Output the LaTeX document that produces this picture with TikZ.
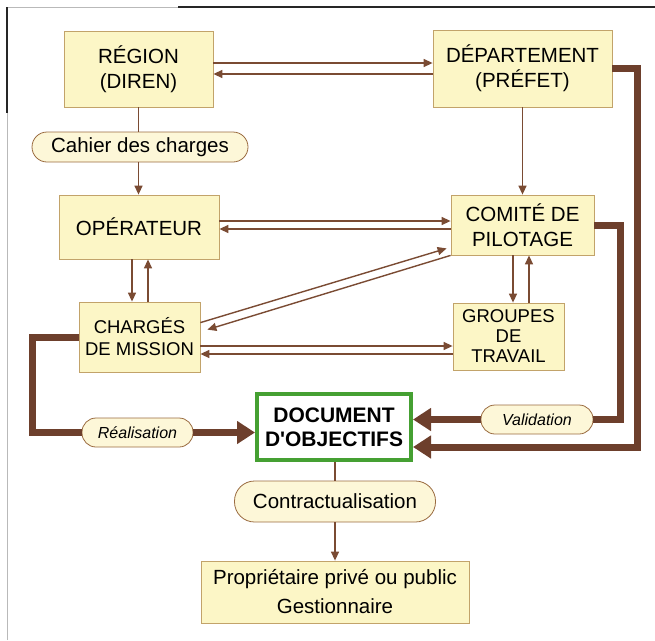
\documentclass[tikz,border=0pt]{standalone}
\usepackage{fontspec}
\setmainfont{Liberation Sans}
\usetikzlibrary{arrows.meta}

\definecolor{boxfill}{HTML}{FCF6C6}
\definecolor{boxline}{HTML}{C2A36A}
\definecolor{ovalfill}{HTML}{FDF7D8}
\definecolor{ovalline}{HTML}{9A6B40}
\definecolor{arrbrown}{HTML}{7A4B33}
\definecolor{bigbrown}{HTML}{6D3F2C}
\definecolor{docgreen}{HTML}{45A032}

\begin{document}
\begin{tikzpicture}[x=1pt, y=-1pt,
    box/.style={draw=boxline, fill=boxfill, line width=0.8pt, align=center,
      inner sep=0pt, font=\fontsize{20.5}{25}\selectfont},
    smallbox/.style={box, font=\fontsize{18.5}{22}\selectfont},
    oval/.style={draw=ovalline, fill=ovalfill, line width=0.8pt,
      inner sep=0pt, font=\fontsize{20.5}{25}\selectfont},
    tag/.style={oval, rounded corners=14pt, minimum width=111pt,
      minimum height=29pt, font=\fontsize{16}{19}\selectfont\itshape},
    arr/.style={-{Triangle[length=9pt,width=8pt]}, draw=arrbrown,
      line width=1.4pt},
    link/.style={draw=arrbrown, line width=1.4pt},
    big/.style={draw=bigbrown, line width=7pt},
    bigtip/.style={-{Triangle[length=18pt,width=22pt]}},
  ]
  \useasboundingbox (0,0) rectangle (655,640);

  % frame of the scan
  \draw[gray!55, line width=1pt] (7,640) -- (7,7) -- (178,7);
  \draw[black!85, line width=1.3pt] (178,7) -- (655,7);
  \draw[black!85, line width=1.3pt] (7,7) -- (7,113);

  % top row
  \node[box, minimum width=149pt, minimum height=76pt] (region) at (138.5,69)
    {RÉGION\\(DIREN)};
  \node[box, minimum width=179pt, minimum height=77pt] (dept) at (522.5,68.5)
    {DÉPARTEMENT\\(PRÉFET)};
  \node[oval, rounded corners=15pt, minimum width=216pt, minimum height=30pt]
    (cahier) at (140,147) {Cahier des charges};

  % middle rows
  \node[box, minimum width=160pt, minimum height=64pt] (operateur) at (139,227)
    {OPÉRATEUR};
  \node[box, minimum width=143pt, minimum height=60pt] (comite) at (522.5,225)
    {COMITÉ DE\\PILOTAGE};
  \node[smallbox, minimum width=121pt, minimum height=70pt] (charges)
    at (139.5,337) {CHARGÉS\\DE MISSION};
  \node[smallbox, minimum width=111pt, minimum height=67pt,
    font=\fontsize{18.5}{20}\selectfont] (groupes) at (508.5,336.5)
    {GROUPES\\DE\\TRAVAIL};

  % document and below
  \node[draw=docgreen, fill=white, line width=4pt, align=center, inner sep=0pt,
    minimum width=154pt, minimum height=66pt,
    font=\fontsize{21}{24}\selectfont\bfseries] (document) at (334,427)
    {DOCUMENT\\D\textquotesingle OBJECTIFS};
  \node[tag] (realisation) at (137.5,432.5) {Réalisation};
  \node[tag, minimum width=112pt] (validation) at (537,419.5) {Validation};
  \node[oval, rounded corners=20pt, minimum width=201pt, minimum height=41pt]
    (contract) at (335,501.5) {Contractualisation};
  \node[box, minimum width=268pt, minimum height=62pt,
    font=\fontsize{20.5}{29}\selectfont] (proprio) at (335,592)
    {Propriétaire privé ou public\\Gestionnaire};

  % thin connectors
  \draw[arr] ([yshift=6pt]region.east) -- ([yshift=6pt]region.east -| dept.west);
  \draw[arr] ([yshift=-5pt]region.east -| dept.west) -- ([yshift=-5pt]region.east);
  \draw[link] (region.south) -- (region.south |- cahier.north);
  \draw[arr] (region.south |- cahier.south) -- (region.south |- operateur.north);
  \draw[arr] (dept.south) -- (dept.south |- comite.north);

  \draw[arr] ([yshift=6pt]operateur.east) -- ([yshift=6pt]operateur.east -| comite.west);
  \draw[arr] ([yshift=-2pt]operateur.east -| comite.west) -- ([yshift=-2pt]operateur.east);
  \draw[arr] ([xshift=-7pt]operateur.south) -- ([xshift=-7pt]operateur.south |- charges.north);
  \draw[arr] ([xshift=9pt]operateur.south |- charges.north) -- ([xshift=9pt]operateur.south);
  \draw[arr] ([xshift=-9.5pt]comite.south) -- ([xshift=-9.5pt]comite.south |- groupes.north);
  \draw[arr] ([xshift=6.5pt]comite.south |- groupes.north) -- ([xshift=6.5pt]comite.south);

  \draw[arr] ([yshift=-21pt]charges.north east) -- ([shift={(-4pt,7pt)}]comite.south west);
  \draw[arr] (comite.south west) -- ([shift={(7pt,-28pt)}]charges.north east);
  \draw[arr] ([yshift=-9pt]charges.east) -- ([yshift=-9pt]charges.east -| groupes.west);
  \draw[arr] ([yshift=-17pt]charges.east -| groupes.west) -- ([yshift=-17pt]charges.east);

  \draw[link] (contract.north |- document.south) -- (contract.north);
  \draw[arr] (contract.south) -- (contract.south |- proprio.north);

  % thick connectors
  \draw[big] (charges.west) -- ++(-46,0) |- (realisation.west);
  \draw[big, bigtip] (realisation.east) -- (realisation.east -| document.west);
  \draw[big] (comite.east) -- ++(26,0) |- (validation.east);
  \draw[big, bigtip] (validation.west) -- (validation.west -| document.east);
  \draw[big, bigtip] (dept.east) -- ++(25,0) |- ([yshift=-20pt]document.east);
\end{tikzpicture}
\end{document}
